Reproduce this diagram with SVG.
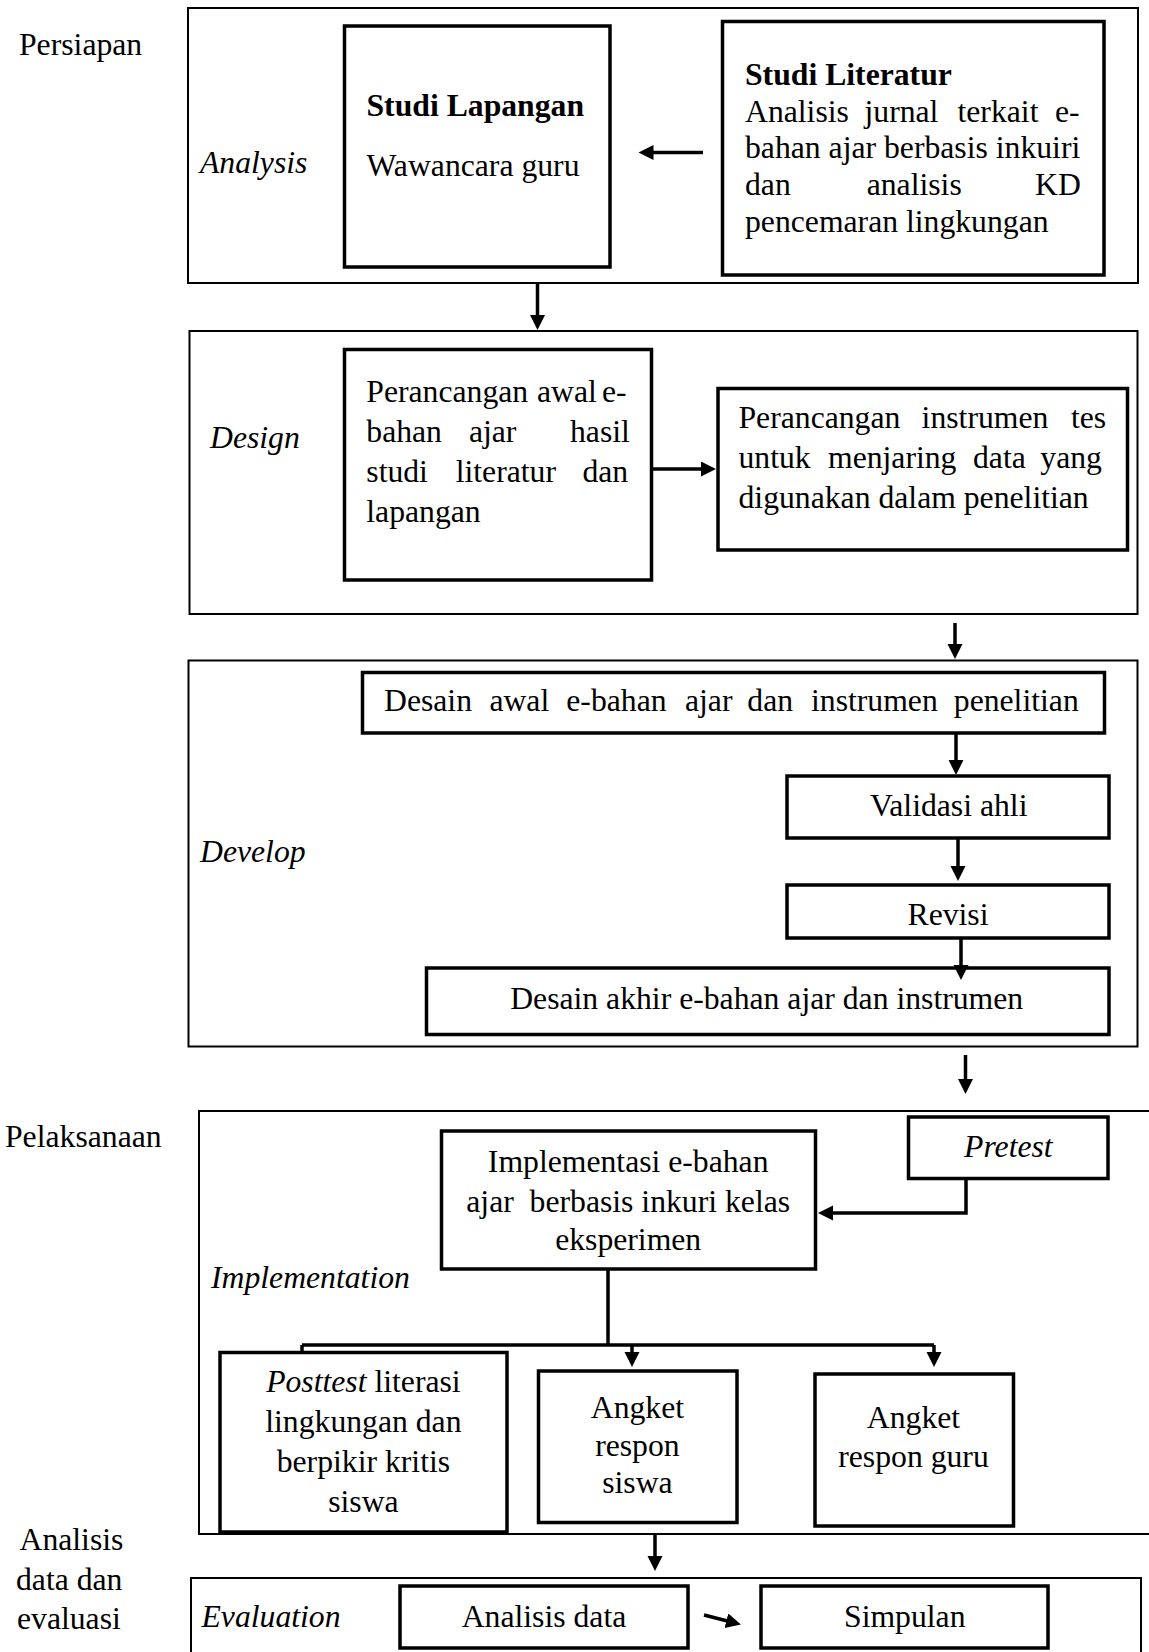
<svg xmlns="http://www.w3.org/2000/svg" width="1149" height="1652" viewBox="0 0 1149 1652">
<style>
text{font-family:"Liberation Serif","Times New Roman",serif;font-size:31.7px;fill:#000}
.b{font-weight:bold}
.i{font-style:italic}
.m{text-anchor:middle}
.frame{fill:none;stroke:#000;stroke-width:2}
.box{fill:#fff;stroke:#000;stroke-width:3.5}
.c{fill:none;stroke:#000;stroke-width:3.5}
</style>
<defs>
<marker id="ah" markerUnits="userSpaceOnUse" markerWidth="16" markerHeight="16" refX="1" refY="7.5" orient="auto">
<path d="M0,0 L15,7.5 L0,15 z" fill="#000"/>
</marker>
</defs>

<g id="phase-labels">
<text x="19" y="55">Persiapan</text>
<text x="5" y="1146.5">Pelaksanaan</text>
<text x="19.5" y="1550">Analisis</text>
<text x="16" y="1590">data dan</text>
<text x="17" y="1629">evaluasi</text>
</g>

<g id="frame-analysis"><rect class="frame" x="188" y="8" width="950" height="275"/><text class="i" x="200" y="173">Analysis</text></g>
<g id="frame-design"><rect class="frame" x="189.5" y="331" width="948" height="283"/><text class="i" x="210" y="448">Design</text></g>
<g id="frame-develop"><rect class="frame" x="188.5" y="660.5" width="949" height="386"/><text class="i" x="200" y="862">Develop</text></g>
<g id="frame-implementation"><rect class="frame" x="199" y="1111" width="960" height="423"/><text class="i" x="211" y="1288">Implementation</text></g>
<g id="frame-evaluation"><rect class="frame" x="191" y="1578" width="950" height="200"/><text class="i" x="201.5" y="1627">Evaluation</text></g>

<g id="connectors">
<line class="c" x1="703" y1="152.5" x2="652.5" y2="152.5" marker-end="url(#ah)"/>
<line class="c" x1="537.5" y1="284" x2="537.5" y2="316" marker-end="url(#ah)"/>
<line class="c" x1="652" y1="469" x2="702" y2="469" marker-end="url(#ah)"/>
<line class="c" x1="955" y1="623" x2="955" y2="645" marker-end="url(#ah)"/>
<line class="c" x1="956" y1="733" x2="956" y2="761" marker-end="url(#ah)"/>
<line class="c" x1="958" y1="838" x2="958" y2="867" marker-end="url(#ah)"/>
<line class="c" x1="965.5" y1="1055" x2="965.5" y2="1080" marker-end="url(#ah)"/>
<path class="c" d="M966,1179 V1213 H832" marker-end="url(#ah)"/>
<path class="c" d="M608,1269 V1345"/>
<path class="c" d="M302,1345 H934"/>
<line class="c" x1="302" y1="1345" x2="302" y2="1353" marker-end="url(#ah)"/>
<line class="c" x1="632" y1="1345" x2="632" y2="1353" marker-end="url(#ah)"/>
<line class="c" x1="934" y1="1345" x2="934" y2="1353" marker-end="url(#ah)"/>
<line class="c" x1="655" y1="1534" x2="655" y2="1557" marker-end="url(#ah)"/>
<line class="c" x1="704" y1="1615" x2="727.4" y2="1621" marker-end="url(#ah)"/>
</g>

<g id="studi-lapangan">
<rect class="box" x="344.5" y="26" width="265.5" height="241"/>
<text class="b" x="366.5" y="116">Studi Lapangan</text>
<text x="366.5" y="176">Wawancara guru</text>
</g>

<g id="studi-literatur">
<rect class="box" x="722.5" y="21.5" width="381.5" height="253.5"/>
<text class="b" x="745" y="85">Studi Literatur</text>
<text y="121.7"><tspan x="745">Analisis</tspan><tspan x="864.5">jurnal</tspan><tspan x="957.5">terkait</tspan><tspan x="1055">e-</tspan></text>
<text x="745" y="158.3">bahan ajar berbasis inkuiri</text>
<text y="195"><tspan x="745">dan</tspan><tspan x="866.7">analisis</tspan><tspan x="1035">KD</tspan></text>
<text x="745" y="231.7">pencemaran lingkungan</text>
</g>

<g id="perancangan-awal">
<rect class="box" x="344.5" y="349.5" width="307" height="230.5"/>
<text y="401.7"><tspan x="366.3">Perancangan</tspan><tspan x="537">awal</tspan><tspan x="602">e-</tspan></text>
<text y="441.7"><tspan x="366.3">bahan</tspan><tspan x="468.9">ajar</tspan><tspan x="570">hasil</tspan></text>
<text y="482"><tspan x="366.3">studi</tspan><tspan x="455.7">literatur</tspan><tspan x="582.4">dan</tspan></text>
<text x="366.3" y="521.7">lapangan</text>
</g>

<g id="perancangan-instrumen">
<rect class="box" x="718" y="388.5" width="409.5" height="161.5"/>
<text y="428.3"><tspan x="738.5">Perancangan</tspan><tspan x="921.6">instrumen</tspan><tspan x="1071">tes</tspan></text>
<text y="468.3"><tspan x="738.5">untuk</tspan><tspan x="828">menjaring</tspan><tspan x="973">data</tspan><tspan x="1040.3">yang</tspan></text>
<text x="738.5" y="508.3">digunakan dalam penelitian</text>
</g>

<g id="desain-awal">
<rect class="box" x="362.5" y="672.5" width="742" height="60.5"/>
<text y="711"><tspan x="384">Desain</tspan><tspan x="489.4">awal</tspan><tspan x="566.3">e-bahan</tspan><tspan x="685">ajar</tspan><tspan x="747.3">dan</tspan><tspan x="811">instrumen</tspan><tspan x="953.8">penelitian</tspan></text>
</g>

<g id="validasi-ahli">
<rect class="box" x="787" y="776" width="322" height="62"/>
<text class="m" x="948.7" y="815.5">Validasi ahli</text>
</g>

<g id="revisi">
<rect class="box" x="787" y="885" width="322" height="53"/>
<text class="m" x="948" y="925">Revisi</text>
</g>

<g id="desain-akhir">
<rect class="box" x="426.5" y="968" width="682.5" height="66.5"/>
<text class="m" x="766.7" y="1008.5">Desain akhir e-bahan ajar dan instrumen</text>
</g>
<line class="c" x1="961" y1="938" x2="961" y2="966" marker-end="url(#ah)"/>

<g id="implementasi">
<rect class="box" x="441.5" y="1131" width="374" height="138"/>
<text class="m" x="628.2" y="1171.7">Implementasi e-bahan</text>
<text class="m" x="628.2" y="1211.7" style="white-space:pre">ajar  berbasis inkuri kelas</text>
<text class="m" x="628.2" y="1250">eksperimen</text>
</g>

<g id="pretest">
<rect class="box" x="908.5" y="1117" width="199.5" height="61.5"/>
<text class="m i" x="1008.4" y="1156.5">Pretest</text>
</g>

<g id="posttest">
<rect class="box" x="220" y="1352.5" width="287" height="179.5"/>
<text class="m" x="363.4" y="1391.7"><tspan class="i">Posttest</tspan> literasi</text>
<text class="m" x="363.4" y="1431.7">lingkungan dan</text>
<text class="m" x="363.4" y="1471.7">berpikir kritis</text>
<text class="m" x="363.4" y="1511.7">siswa</text>
</g>

<g id="angket-siswa">
<rect class="box" x="538.5" y="1371" width="198.5" height="151.5"/>
<text class="m" x="637.4" y="1418.3">Angket</text>
<text class="m" x="637.4" y="1455.5">respon</text>
<text class="m" x="637.4" y="1493">siswa</text>
</g>

<g id="angket-guru">
<rect class="box" x="815" y="1374" width="198.5" height="152"/>
<text class="m" x="913.5" y="1428.3">Angket</text>
<text class="m" x="913.5" y="1466.7">respon guru</text>
</g>

<g id="analisis-data">
<rect class="box" x="400" y="1586" width="288" height="62"/>
<text class="m" x="544" y="1626.5">Analisis data</text>
</g>

<g id="simpulan">
<rect class="box" x="761" y="1586" width="287" height="62"/>
<text class="m" x="904.8" y="1626.5">Simpulan</text>
</g>
</svg>
